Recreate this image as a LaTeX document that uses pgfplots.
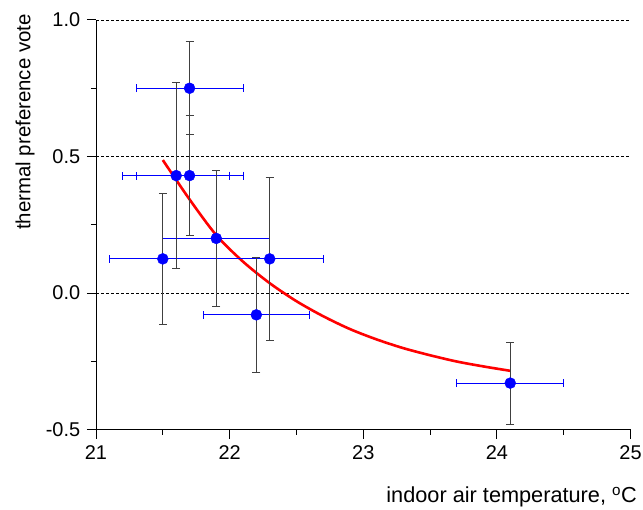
\documentclass[border=0pt]{standalone}
\usepackage{pgfplots}
\pgfplotsset{compat=1.18}
\usepackage{pgfplotstable}
\usepackage{fontspec}
\setmainfont{Liberation Sans}
\pgfplotstableread{
x     y      ex   ey
21.7  0.75   0.4  0.17
21.6  0.43   0.4  0.34
21.7  0.43   0.4  0.22
21.9  0.20   0.4  0.25
21.5  0.125  0.4  0.24
22.3  0.125  0.4  0.30
22.2  -0.08  0.4  0.21
24.1  -0.33  0.4  0.15
}\data
\begin{document}
\fontsize{20}{24}\selectfont
\begin{tikzpicture}
\begin{axis}[name=ax, scale only axis, width=534.5bp, height=409.5bp,
  xmin=21, xmax=25, ymin=-0.5, ymax=1.0,
  axis lines*=left,
  axis line style={-, line width=1bp},
  every tick/.style={black, line width=1bp},
  tick align=outside,
  major tick length=9bp, minor tick length=5bp,
  xtick={21,22,23,24,25}, ytick={-0.5,0,0.5,1},
  minor x tick num=1, minor y tick num=1,
  /pgf/number format/assume math mode=true,
  yticklabel style={/pgf/number format/.cd, fixed, fixed zerofill, precision=1},
  ymajorgrids,
  major grid style={black, line width=0.7bp, dash pattern=on 3bp off 2bp},
  xlabel={indoor air temperature, \textsuperscript{o}C},
  xlabel style={at={(rel axis cs:1,0)}, anchor=base east, yshift=-73bp, xshift=6.5bp, inner sep=0pt, font=\fontsize{21.8}{26}\selectfont},
  ylabel={thermal preference vote},
  ylabel style={at={(axis description cs:-0.1328,0.751)}, anchor=center, font=\fontsize{20.5}{24}\selectfont},
]
\addplot[red, line width=2.6bp, smooth] coordinates {
(21.5,0.487) (21.7,0.343) (21.9,0.212) (22.1,0.115) (22.3,0.036) (22.5,-0.030)
(22.7,-0.085) (22.9,-0.132) (23.1,-0.170) (23.3,-0.202) (23.5,-0.228)
(23.7,-0.251) (23.9,-0.269) (24.1,-0.285)};
\addplot[draw=none, mark=none, forget plot,
  error bars/.cd, x dir=both, x explicit,
  error bar style={draw=blue, line width=0.8bp},
  error mark options={rotate=90, draw=blue, mark size=4bp, line width=0.8bp}]
  table[x=x, y=y, x error=ex] {\data};
\addplot[only marks, mark=*, mark size=5.5bp, mark options={draw=blue, fill=blue},
  error bars/.cd, y dir=both, y explicit,
  error bar style={draw=black!75, line width=0.9bp},
  error mark options={rotate=90, draw=black!75, mark size=4bp, line width=0.9bp}]
  table[x=x, y=y, y error=ey] {\data};
\end{axis}
\pgfresetboundingbox
\path ([xshift=-96bp, yshift=-79.5bp]ax.south west) rectangle ([xshift=12.5bp, yshift=20bp]ax.north east);
\end{tikzpicture}
\end{document}
